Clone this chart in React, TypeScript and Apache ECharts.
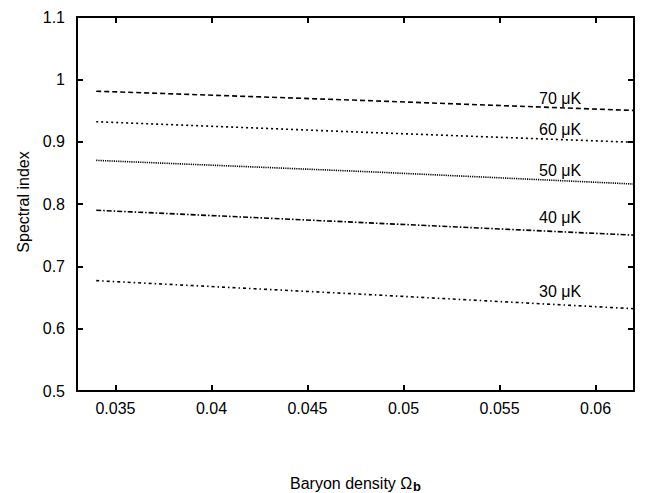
import React, { useEffect, useRef } from "react";
import * as echarts from "echarts";

const xValues = [0.034, 0.048, 0.062];
const s70 = [0.981, 0.966, 0.95];
const s60 = [0.932, 0.915, 0.899];
const s50 = [0.87, 0.852, 0.832];
const s40 = [0.79, 0.77, 0.75];
const s30 = [0.677, 0.655, 0.632];
const seriesNames = ["70 μK", "60 μK", "50 μK", "40 μK", "30 μK"];
const labelX = 0.05815;
const labelY = [0.97, 0.919, 0.854, 0.779, 0.659];
const xTicks = [0.035, 0.04, 0.045, 0.05, 0.055, 0.06];
const yTicks = [0.5, 0.6, 0.7, 0.8, 0.9, 1.0, 1.1];

const FONT = "'Liberation Sans', Arial, Helvetica, sans-serif";

export default function App() {
  const ref = useRef<HTMLDivElement>(null);
  useEffect(() => {
    if (!ref.current) return;
    const chart = echarts.init(ref.current, undefined, { renderer: "svg" });
    const all = [s70, s60, s50, s40, s30];
    const dashes: number[][] = [
      [5, 3],
      [2, 3],
      [1.2, 1],
      [5, 2, 1.5, 2],
      [3, 3, 1.5, 3],
    ];
    const xAxisCommon = {
      type: "value" as const,
      min: 0.033,
      max: 0.062,
      splitLine: { show: false },
      axisLine: { show: true, onZero: false, lineStyle: { color: "#000", width: 2 } },
      axisTick: {
        show: true,
        inside: true,
        length: 6,
        customValues: xTicks,
        lineStyle: { color: "#000", width: 2 },
      },
    };
    const yAxisCommon = {
      type: "value" as const,
      min: 0.5,
      max: 1.1,
      interval: 0.1,
      splitLine: { show: false },
      axisLine: { show: true, onZero: false, lineStyle: { color: "#000", width: 2 } },
      axisTick: {
        show: true,
        inside: true,
        length: 6,
        lineStyle: { color: "#000", width: 2 },
      },
    };
    chart.setOption({
      animation: false,
      backgroundColor: "#fff",
      grid: { left: 77, right: 12, top: 17, bottom: 102 },
      xAxis: [
        {
          ...xAxisCommon,
          position: "bottom",
          axisLabel: {
            show: true,
            customValues: xTicks,
            margin: 9,
            color: "#000",
            fontSize: 16,
            fontFamily: FONT,
            formatter: (v: number) => String(parseFloat(v.toFixed(4))),
          },
        },
        { ...xAxisCommon, position: "top", axisLabel: { show: false } },
      ],
      yAxis: [
        {
          ...yAxisCommon,
          position: "left",
          axisLabel: {
            show: true,
            margin: 12,
            color: "#000",
            fontSize: 16,
            fontFamily: FONT,
            formatter: (v: number) => {
              const r = Math.round(v * 10) / 10;
              return yTicks.includes(r) ? String(r) : "";
            },
          },
        },
        { ...yAxisCommon, position: "right", axisLabel: { show: false } },
      ],
      series: [
        ...all.map((vals, i) => ({
          type: "line",
          name: seriesNames[i],
          data: xValues.map((x, j) => [x, vals[j]]),
          showSymbol: false,
          symbol: "none",
          lineStyle: { color: "#000", width: 1.6, type: dashes[i] },
          silent: true,
        })),
        {
          type: "scatter",
          symbolSize: 0,
          itemStyle: { opacity: 1, color: "#000" },
          data: seriesNames.map((n, i) => ({ value: [labelX, labelY[i]], name: n })),
          label: {
            show: true,
            position: "inside",
            formatter: (p: any) => p.name,
            color: "#000",
            opacity: 1,
            fontSize: 16,
            fontFamily: FONT,
          },
          silent: true,
        },
      ],
      graphic: [
        {
          type: "text",
          x: 23,
          y: 202,
          rotation: Math.PI / 2,
          style: {
            text: "Spectral index",
            fill: "#000",
            font: `16px ${FONT}`,
            align: "center",
            verticalAlign: "middle",
          },
        },
        {
          type: "text",
          x: 290,
          y: 483,
          style: {
            text: "Baryon density Ω",
            fill: "#000",
            font: `16px ${FONT}`,
            align: "left",
            verticalAlign: "middle",
          },
        },
        {
          type: "text",
          x: 413,
          y: 486,
          style: {
            text: "b",
            fill: "#000",
            font: `bold 13px ${FONT}`,
            align: "left",
            verticalAlign: "middle",
          },
        },
      ],
    });
    return () => chart.dispose();
  }, []);
  return (
    <div
      ref={ref}
      style={{ position: "fixed", left: 0, top: 0, width: 646, height: 493 }}
    />
  );
}
